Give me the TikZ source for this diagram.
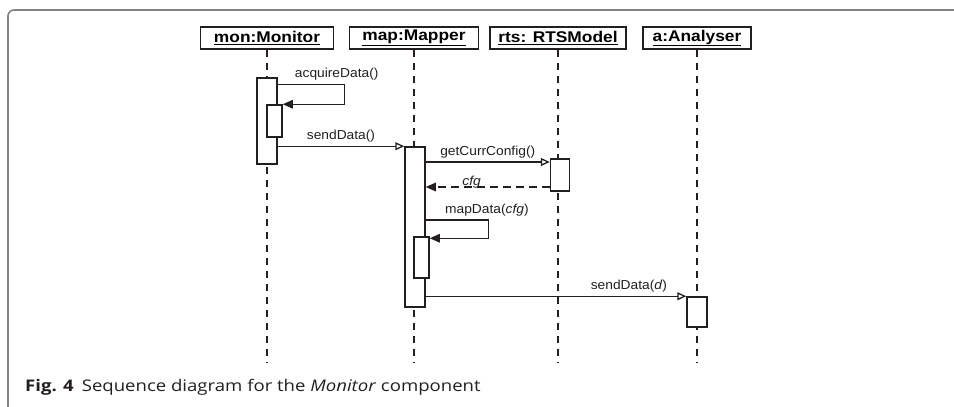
\documentclass[tikz,border=0pt]{standalone}
\usepackage{fontspec}
\setmainfont{Liberation Sans}
\newfontfamily\capfont[FakeStretch=1.16]{Open Sans}
\newfontfamily\objfont[FakeStretch=1.12]{Liberation Sans}
\newfontfamily\msgfont[FakeStretch=1.06]{Liberation Sans}
\usetikzlibrary{arrows.meta}
\definecolor{framegray}{RGB}{130,130,130}
\definecolor{inkblack}{RGB}{35,31,32}

\begin{document}
\begin{tikzpicture}[x=1pt, y=-1pt,
  obj/.style={draw=inkblack, line width=1.5pt, minimum height=22pt, inner sep=0pt, font=\objfont\fontsize{15.5}{18}\selectfont\bfseries},
  act/.style={draw=inkblack, fill=white, line width=1.5pt, minimum width=20pt, inner sep=0pt},
  call/.style={draw=inkblack, line width=1.4pt, -{Triangle[open, length=9pt, width=8pt, line width=1.3pt]}},
  self/.style={draw=inkblack, line width=1.4pt, -{Triangle[length=10pt, width=8.5pt]}},
  ret/.style={self, dash pattern=on 8pt off 5pt},
  lbl/.style={text=inkblack, font=\msgfont\fontsize{13}{15}\selectfont, inner sep=3pt}]

  \useasboundingbox (0,0) rectangle (954,407);

  % frame
  \draw [framegray, line width=1.6pt, rounded corners=6pt] (8,420) -- (8,10) -- (970,10);

  % objects
  \node [obj, minimum width=133pt] (mon) at (267,38) {\underline{mon:Monitor}};
  \node [obj, minimum width=129pt] (map) at (414,38) {\underline{map:Mapper}};
  \node [obj, minimum width=136pt] (rts) at (558,38) {\underline{rts: RTSModel}};
  \node [obj, minimum width=108pt] (ana) at (697,38) {\underline{a:Analyser}};

  \foreach \n in {mon,map,rts,ana} \draw [inkblack, line width=1.3pt, dash pattern=on 7pt off 6pt] (\n.south) -- (\n |- 0,362);

  % activations
  \node [act, minimum height=86pt] (monact) at (267,121) {};
  \node [act, minimum width=15pt, minimum height=32pt] (monsub) at (274.5,121) {};
  \node [act, minimum height=160pt] (mapact) at (415,227) {};
  \node [act, minimum width=15pt, minimum height=41pt] (mapsub) at (421.5,257.5) {};
  \node [act, minimum width=19pt, minimum height=32pt] (rtsact) at (560,175) {};
  \node [act, minimum height=30pt] (anaact) at (697,312) {};

  % messages
  \draw [self] ([yshift=-7pt]monact.north east) -- ++(67,0) node [lbl, above, pos=0.88] {acquireData()} |- (monsub.north east);
  \draw [call] (monact.east |- mapact.north) -- (mapact.north west) node [lbl, above, midway] {sendData()};
  \draw [call] (mapact.east |- 0,162) -- (rtsact.west |- 0,162) node [lbl, above, midway] {getCurrConfig()};
  \draw [ret] (rtsact.west |- 0,187) -- (mapact.east |- 0,187) node [lbl, anchor=base, pos=0.63, yshift=2pt, inner sep=0pt] {\textit{cfg}};
  \draw [self] (mapact.east |- 0,220) -- ++(63,0) node [lbl, above, pos=0.97] {mapData(\textit{cfg})} |- ([yshift=-2pt]mapsub.north east);
  \draw [call] (mapact.east |- anaact.north) -- (anaact.north west) node [lbl, above, pos=0.78] {sendData(\textit{d})};

  % caption
  \node [anchor=base west, inner sep=0pt, text=inkblack, font=\capfont\fontsize{16}{18}\selectfont] (caption) at (25,391) {\textbf{Fig. 4}\enspace Sequence diagram for the \textit{Monitor} component};

\end{tikzpicture}
\end{document}
